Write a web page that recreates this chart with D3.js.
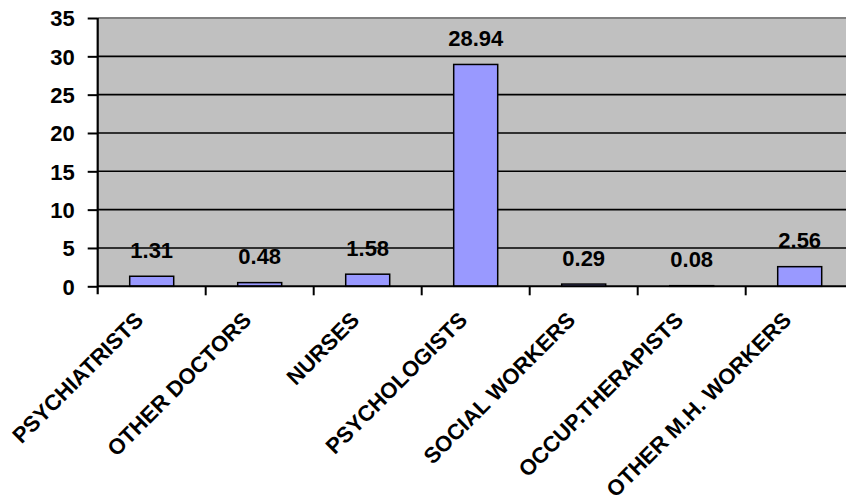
<!DOCTYPE html>
<html><head><meta charset="utf-8">
<script src="https://cdn.jsdelivr.net/npm/d3@7"></script>
<style>body{margin:0;background:#fff}svg{display:block}text{font-family:"Liberation Sans",Arial,sans-serif;font-weight:bold;fill:#000}</style>
</head><body><svg id="c" width="846" height="501"></svg>
<script>
const categories = ["PSYCHIATRISTS","OTHER DOCTORS","NURSES","PSYCHOLOGISTS","SOCIAL WORKERS","OCCUP.THERAPISTS","OTHER M.H. WORKERS"];
const values = [1.31,0.48,1.58,28.94,0.29,0.08,2.56];
const valueLabels = ["1.31","0.48","1.58","28.94","0.29","0.08","2.56"];
const yTicks = [0,5,10,15,20,25,30,35];

const svg = d3.select("#c");
const pLeft = 97.7, band = 108, pTop = 18, pBottom = 286.3;
const fs = "22px";
const x = d3.scaleBand().domain(categories).range([pLeft, pLeft + band*categories.length]).padding(0);
const y = d3.scaleLinear().domain([0,35]).range([pBottom, pTop]);

// plot background
svg.append("rect").attr("x", pLeft).attr("y", pTop).attr("width", 846 - pLeft + 10).attr("height", pBottom - pTop).attr("fill", "#c0c0c0");
// top border
svg.append("line").attr("x1", pLeft).attr("x2", 846).attr("y1", pTop).attr("y2", pTop).attr("stroke", "#808080").attr("stroke-width", 2);

// gridlines
svg.append("g").selectAll("line").data(yTicks.filter(d => d > 0 && d < 35)).join("line")
  .attr("x1", pLeft).attr("x2", 846).attr("y1", d => y(d)).attr("y2", d => y(d))
  .attr("stroke", "#000").attr("stroke-width", 1.6);

// bars
const bw = 44;
svg.append("g").selectAll("rect").data(values).join("rect")
  .attr("x", (d,i) => x(categories[i]) + band/2 - bw/2)
  .attr("y", d => y(d)).attr("width", bw).attr("height", d => pBottom - y(d))
  .attr("fill", "#9999ff").attr("stroke", "#000").attr("stroke-width", 1.5);

// y axis
const yAxis = d3.axisLeft(y).tickValues(yTicks).tickSize(10).tickPadding(13).tickFormat(d3.format("d"));
const gy = svg.append("g").attr("transform", `translate(${pLeft},0)`).call(yAxis);
gy.select(".domain").attr("stroke", "#000").attr("stroke-width", 2.2).attr("d", `M0,${pTop}V${pBottom+8}`);
gy.selectAll(".tick line").attr("stroke", "#000").attr("stroke-width", 2);
gy.selectAll(".tick text").style("font-size", fs).attr("font-weight", "bold").attr("font-family", "Liberation Sans, Arial, sans-serif").attr("dy", "0.36em");

// x axis line
svg.append("line").attr("x1", pLeft).attr("x2", 846).attr("y1", pBottom).attr("y2", pBottom).attr("stroke", "#000").attr("stroke-width", 2);
// x ticks at band boundaries
svg.append("g").selectAll("line").data(categories.slice(1)).join("line")
  .attr("x1", d => x(d)).attr("x2", d => x(d)).attr("y1", pBottom).attr("y2", pBottom + 9)
  .attr("stroke", "#000").attr("stroke-width", 2);

// x labels
svg.append("g").selectAll("text").data(categories).join("text")
  .attr("transform", d => `translate(${x(d) + band/2 - 7},${pBottom + 35}) rotate(-45)`)
  .attr("text-anchor", "end").style("font-size", fs).text(d => d);

// value labels
svg.append("g").selectAll("text").data(values).join("text")
  .attr("x", (d,i) => x(categories[i]) + band/2)
  .attr("y", d => y(d) - 18.5)
  .attr("text-anchor", "middle").style("font-size", fs).text((d,i) => valueLabels[i]);
</script></body></html>
